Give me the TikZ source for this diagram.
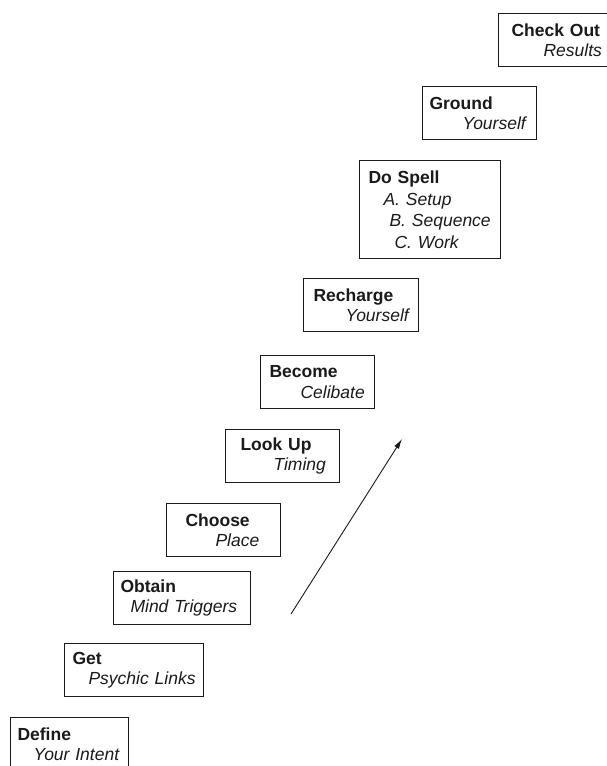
\documentclass[tikz,border=0pt]{standalone}
\usepackage{fontspec}
\setmainfont{Liberation Sans}
\usetikzlibrary{arrows.meta}
\definecolor{Ink}{HTML}{1A1A1A}
\tikzset{
  stepbox/.style={draw=Ink, line width=1.1pt, anchor=north west,
                  inner xsep=7pt, inner ysep=0pt, minimum height=53pt,
                  align=left, text=Ink, font=\fontsize{17.5}{20.5}\selectfont},
  spellbox/.style={stepbox, minimum height=98pt,
                   font=\fontsize{17.5}{21.5}\selectfont},
  risearrow/.style={-{Latex[length=10pt, width=5.5pt]}, line width=0.9pt,
                    draw=Ink},
}
\begin{document}
\begin{tikzpicture}[x=1pt, y=-1pt]
    \useasboundingbox (0,0) rectangle (607,766);
    % boxes climb from bottom left to top right, one step each
    \node[stepbox, text width=104pt] (define) at (10,717)
      {\textbf{Define}\\\hspace*{16pt}\textit{Your Intent}};
    \node[stepbox, text width=125pt] (get) at (64,643)
      {\hspace*{1pt}\textbf{Get}\\\hspace*{17pt}\textit{Psychic Links}};
    \node[stepbox, text width=123pt] (obtain) at (113,571)
      {\textbf{Obtain}\\\hspace*{10pt}\textit{Mind Triggers}};
    \node[stepbox, text width=100pt] (choose) at (166,503)
      {\hspace*{12pt}\textbf{Choose}\\\hspace*{42pt}\textit{Place}};
    \node[stepbox, text width=100pt] (lookup) at (225,429)
      {\hspace*{8pt}\textbf{Look Up}\\\hspace*{41pt}\textit{Timing}};
    \node[stepbox, text width=100pt] (become) at (260,355)
      {\hspace*{2pt}\textbf{Become}\\\hspace*{33pt}\textit{Celibate}};
    \node[stepbox, text width=101pt] (recharge) at (303,278)
      {\hspace*{3pt}\textbf{Recharge}\\\hspace*{35pt}\textit{Yourself}};
    \node[spellbox, text width=127pt] (dospell) at (359,160)
      {\hspace*{2pt}\textbf{Do Spell}\\
       \hspace*{17pt}\textit{A. Setup}\\
       \hspace*{23pt}\textit{B. Sequence}\\
       \hspace*{28pt}\textit{C. Work}};
    \node[stepbox, text width=100pt] (ground) at (422,86)
      {\textbf{Ground}\\\hspace*{33pt}\textit{Yourself}};
    \node[stepbox, text width=100pt] (checkout) at (498,13)
      {\hspace*{6pt}\textbf{Check Out}\\\hspace*{38pt}\textit{Results}};
    \coordinate (risefrom) at (291,614);
    \coordinate (riseto) at (402,439);
    \draw[risearrow] (risefrom) -- (riseto);
\end{tikzpicture}
\end{document}
